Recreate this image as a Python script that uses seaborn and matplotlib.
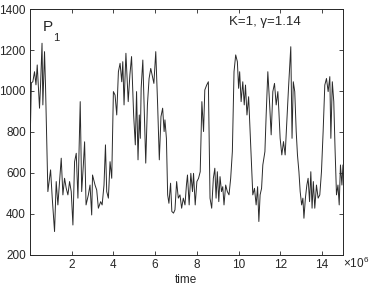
import numpy as np
import pandas as pd
import matplotlib
matplotlib.use("Agg")
import matplotlib.pyplot as plt
import seaborn as sns

# time in units of 1e6
time_e6 = [0.00, 0.07, 0.14, 0.22, 0.29, 0.35, 0.46, 0.51, 0.58, 0.62, 0.70, 0.75, 0.86, 0.94, 0.99,
           1.07, 1.18, 1.26, 1.34, 1.50, 1.58, 1.66, 1.74, 1.82, 1.90, 1.98, 2.06, 2.14, 2.22, 2.30,
           2.41, 2.48, 2.56, 2.62, 2.69, 2.80, 2.88, 2.96, 3.00, 3.12, 3.20, 3.28, 3.39, 3.46, 3.55,
           3.62, 3.68, 3.76, 3.84, 3.92, 4.00, 4.08, 4.16, 4.24, 4.32, 4.40, 4.45, 4.51, 4.60, 4.71,
           4.79, 4.87, 4.97, 5.05, 5.11, 5.18, 5.24, 5.29, 5.33, 5.41, 5.47, 5.55, 5.63, 5.71, 5.79,
           5.87, 5.94, 6.03, 6.12, 6.20, 6.28, 6.36, 6.43, 6.47, 6.54, 6.60, 6.66, 6.74, 6.80, 6.88,
           6.95, 7.03, 7.11, 7.19, 7.27, 7.35, 7.43, 7.50, 7.55, 7.63, 7.71, 7.79, 7.84, 7.92, 8.00,
           8.08, 8.16, 8.24, 8.32, 8.38, 8.47, 8.55, 8.63, 8.71, 8.79, 8.86, 8.92, 8.98, 9.05, 9.11,
           9.18, 9.24, 9.30, 9.38, 9.46, 9.54, 9.62, 9.70, 9.78, 9.86, 9.94, 10.00, 10.05, 10.12, 10.20,
           10.27, 10.33, 10.40, 10.48, 10.55, 10.62, 10.68, 10.76, 10.84, 10.91, 10.97, 11.03, 11.10,
           11.16, 11.26, 11.32, 11.40, 11.48, 11.56, 11.64, 11.72, 11.80, 11.88, 11.93, 11.99, 12.07,
           12.15, 12.23, 12.31, 12.39, 12.50, 12.56, 12.62, 12.69, 12.76, 12.82, 12.89, 12.95, 13.02,
           13.08, 13.13, 13.20, 13.27, 13.33, 13.40, 13.46, 13.52, 13.58, 13.65, 13.73, 13.81, 13.89,
           13.97, 14.05, 14.13, 14.21, 14.29, 14.37, 14.42, 14.49, 14.56, 14.62, 14.69, 14.76, 14.82,
           14.88, 14.95, 15.00]
p1 = [700, 1040, 1045, 1094, 1030, 1127, 916, 1030, 1233, 932, 1192, 1013, 509, 574, 615,
      477, 314, 558, 444, 672, 493, 574, 525, 493, 558, 509, 346, 655, 696, 477,
      948, 509, 639, 752, 444, 493, 541, 395, 590, 541, 517, 428, 460, 444, 541,
      737, 509, 477, 655, 574, 997, 980, 883, 1094, 1135, 1045, 1143, 932, 1184, 948,
      1078, 1168, 883, 737, 997, 664, 883, 769, 1013, 1151, 932, 648, 932, 1061, 1110,
      1070, 1037, 1192, 932, 664, 875, 916, 802, 859, 769, 493, 452, 550, 412, 404,
      420, 558, 477, 493, 428, 477, 444, 541, 590, 444, 598, 509, 598, 444, 558,
      574, 606, 948, 802, 1005, 1029, 1045, 477, 428, 574, 623, 477, 606, 460, 582,
      509, 533, 444, 541, 509, 493, 574, 704, 1094, 1176, 1143, 1013, 1094, 948, 1045,
      932, 1029, 883, 972, 802, 639, 493, 525, 444, 533, 363, 493, 525,
      639, 704, 883, 1094, 948, 786, 997, 1037, 932, 997, 900, 769, 688,
      753, 688, 851, 1013, 1216, 769, 1045, 997, 802, 688, 606, 509, 444,
      477, 379, 477, 541, 574, 460, 606, 428, 558, 428, 541, 477, 493,
      606, 802, 1029, 1061, 997, 1070, 769, 1045, 948, 721, 493, 541, 444,
      639, 541, 639]

x_ticks = [2, 4, 6, 8, 10, 12, 14]
y_ticks = [200, 400, 600, 800, 1000, 1200, 1400]

df = pd.DataFrame({"time": time_e6, "P1": p1})

sns.set_style("ticks")
plt.rcParams['font.family'] = ['Liberation Sans', 'DejaVu Sans']
plt.rcParams['mathtext.fontset'] = 'custom'
plt.rcParams['mathtext.rm'] = 'Liberation Sans'
plt.rcParams['xtick.direction'] = 'in'
plt.rcParams['ytick.direction'] = 'in'

fig = plt.figure(figsize=(3.74, 2.91), dpi=100)
ax = fig.add_axes([0.080, 0.124, 0.837, 0.845])

sns.lineplot(data=df, x="time", y="P1", ax=ax, color="#2a2a2a", lw=0.7, sort=False)

ax.set_xlim(0, 15)
ax.set_ylim(200, 1400)
ax.set_xticks(x_ticks)
ax.set_yticks(y_ticks)
ax.tick_params(labelsize=8.5, length=3, width=0.6, top=True, right=True, pad=3)
for s in ax.spines.values():
    s.set_linewidth(0.7)
ax.set_xlabel("time", fontsize=8.5, labelpad=2)
ax.set_ylabel("")

# x10^6 multiplier at lower right
ax.text(1.0, -0.053, r"$\times\mathrm{10}^{\mathrm{6}}$", transform=ax.transAxes, fontsize=8.5,
        ha="left", va="baseline")

# panel label P_1
ax.text(0.040, 0.925, "P", transform=ax.transAxes, fontsize=11, ha="left", va="center")
ax.text(0.073, 0.884, "1", transform=ax.transAxes, fontsize=8, ha="left", va="center")
ax.text(0.635, 0.947, "K=1, γ=1.14", transform=ax.transAxes, fontsize=9.5, ha="left", va="center")

fig.savefig("out.png", dpi=100)
